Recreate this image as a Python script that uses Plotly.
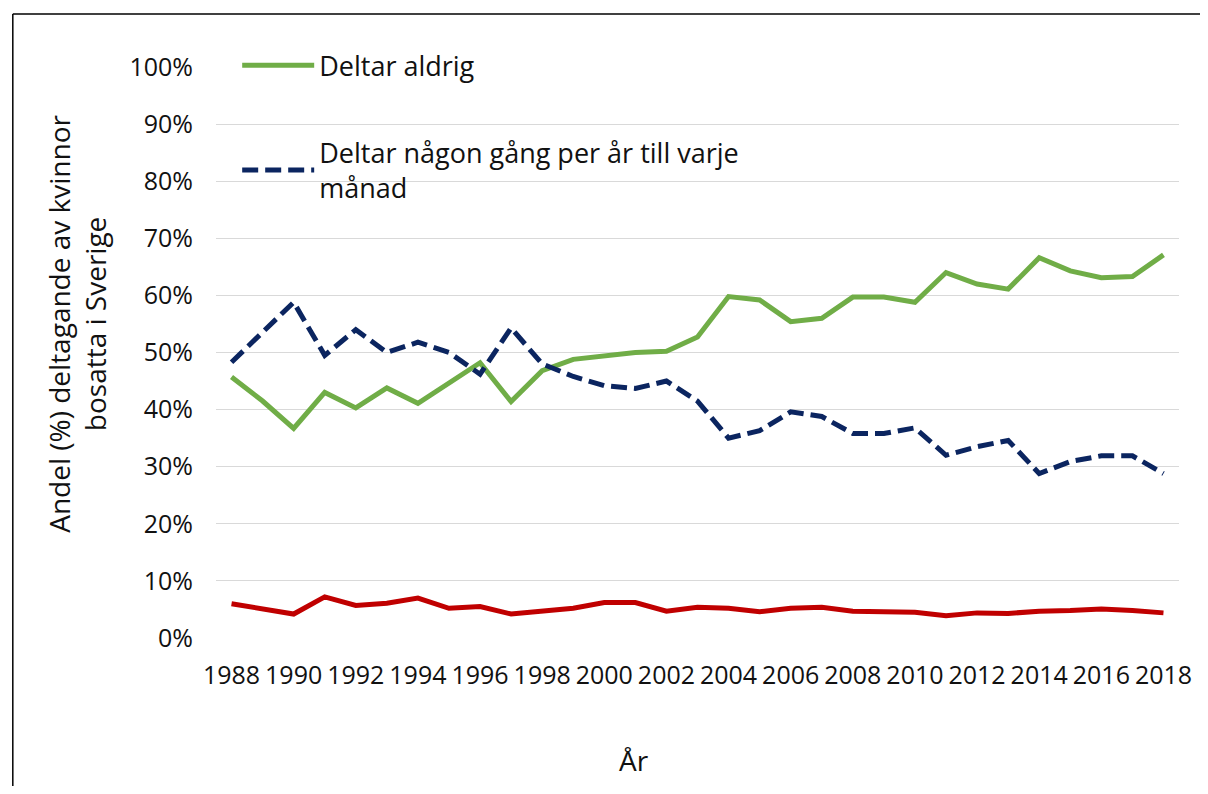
import plotly.graph_objects as go

years = list(range(1988, 2019))
never = [45.7, 41.5, 36.7, 43.0, 40.3, 43.8, 41.1, 44.7, 48.2, 41.4,
         46.8, 48.8, 49.4, 50.0, 50.2, 52.7, 59.8, 59.2, 55.4, 56.0,
         59.7, 59.7, 58.8, 64.0, 62.0, 61.1, 66.6, 64.3, 63.1, 63.3, 67.1]
sometimes = [48.3, 53.5, 58.8, 49.5, 54.0, 50.0, 51.8, 50.0, 46.2, 54.3,
             48.0, 45.8, 44.2, 43.7, 45.0, 41.5, 35.0, 36.3, 39.6, 38.8,
             35.8, 35.8, 36.8, 32.0, 33.5, 34.6, 28.8, 30.9, 31.9, 31.9, 28.8]
monthly = [6.0, 5.2, 4.2, 7.2, 5.7, 6.1, 7.0, 5.2, 5.5, 4.2,
           4.8, 5.2, 6.2, 6.2, 4.7, 5.4, 5.2, 4.6, 5.2, 5.4,
           4.7, 4.7, 4.5, 3.9, 4.4, 4.3, 4.7, 4.8, 5.1, 4.8, 4.4]

name_never = "Deltar aldrig"
name_some = "Deltar någon gång per år till varje<br>månad"
name_month = "Deltar varje månad"

y_ticks = list(range(0, 101, 10))
y_labels = [f"{v}%" for v in y_ticks]
x_ticks = list(range(1988, 2019, 2))

FONT = "Open Sans"

fig = go.Figure()
fig.add_trace(go.Scatter(x=years, y=never, mode="lines", name=name_never,
                         legendgroup="a",
                         line=dict(color="#70AD47", width=5)))
fig.add_trace(go.Scatter(x=years, y=sometimes, mode="lines", name=name_some,
                         legendgroup="b",
                         line=dict(color="#0B2560", width=5, dash="16px,7px")))
fig.add_trace(go.Scatter(x=years, y=monthly, mode="lines", name=name_month,
                         showlegend=False,
                         line=dict(color="#C00000", width=5)))

fig.update_layout(
    width=1192, height=778,
    margin=dict(l=208, r=8, t=59, b=148),
    paper_bgcolor="white", plot_bgcolor="white",
    font=dict(family=FONT, size=25, color="#111111"),
    showlegend=True,
    legend=dict(x=0.022, y=1.045, xanchor="left", yanchor="top",
                bgcolor="rgba(0,0,0,0)", font=dict(size=27),
                tracegroupgap=49, itemwidth=72),
    xaxis=dict(range=[1987.5, 2018.5], tickvals=x_ticks,
               ticktext=[str(v) for v in x_ticks],
               showgrid=False, zeroline=False, showline=False,
               ticks="", ticklabelstandoff=20, ticklabeloverflow="allow"),
    yaxis=dict(range=[0, 100], tickvals=y_ticks, ticktext=y_labels,
               showgrid=True, gridcolor="#D9D9D9", gridwidth=1,
               zeroline=False, showline=False, ticks="",
               ticklabelstandoff=22),
    annotations=[
        dict(text="År", xref="paper", yref="paper", x=0.434, y=-0.2137,
             xanchor="center", yanchor="middle", showarrow=False,
             font=dict(size=28)),
        dict(text="Andel (%) deltagande av kvinnor<br>bosatta i Sverige",
             xref="paper", yref="paper", x=-0.1445, y=0.55, textangle=-90,
             xanchor="center", yanchor="middle", showarrow=False,
             font=dict(size=28)),
    ],
    shapes=[
        dict(type="line", xref="paper", yref="paper",
             x0=-0.211, x1=1.05, y0=1.0928, y1=1.0928,
             line=dict(color="black", width=1.5), layer="below"),
        dict(type="line", xref="paper", yref="paper",
             x0=-0.211, x1=-0.211, y0=-0.35, y1=1.0928,
             line=dict(color="black", width=1.5), layer="below"),
    ],
)

fig.write_html("out.html")
